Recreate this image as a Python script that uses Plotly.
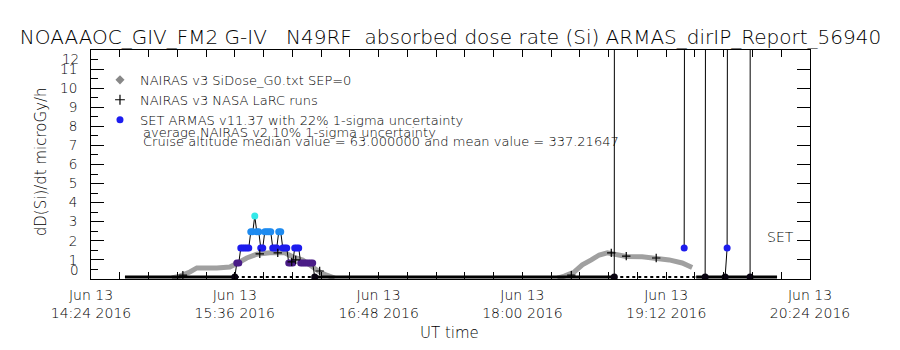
import plotly.graph_objects as go

DAY = "2016-06-13 "

# NAIRAS v3 SiDose curve (gray)
nairas_time = ["15:04:30", "15:08:30", "15:13:30", "15:17:00", "15:27:00", "15:33:30", "15:37:30",
               "15:42:00", "15:47:00", "15:53:30", "16:01:00", "16:05:00", "16:10:00", "16:15:00",
               "16:18:30", "16:22:00", "16:26:00", None,
               "18:17:30", "18:21:00", "18:26:00", "18:30:00", "18:34:30", "18:38:30", "18:42:30",
               "18:46:00", "18:52:00", "19:00:00", "19:07:00", "19:13:30", "19:20:00", "19:25:00"]
nairas_dose = [0.05, 0.15, 0.37, 0.58, 0.58, 0.63, 0.84,
               1.10, 1.30, 1.37, 1.37, 1.16, 1.00, 0.63,
               0.37, 0.20, 0.05, None,
               0.05, 0.15, 0.37, 0.74, 1.00, 1.26, 1.37,
               1.30, 1.18, 1.16, 1.10, 1.00, 0.84, 0.60]

# NAIRAS v3 NASA LaRC runs (+)
larc_time = ["15:10:00", "15:48:30", "15:57:30", "16:04:30", "16:06:30", "16:18:30",
             "18:24:30", "18:44:30", "18:52:00", "19:07:00"]
larc_dose = [0.20, 1.32, 1.37, 0.90, 1.00, 0.42,
             0.20, 1.37, 1.20, 1.10]

# SET ARMAS v11.37 measurements
armas_time = ["15:36", "15:37", "15:38", "15:39", "15:40", "15:41", "15:42", "15:43", "15:44",
              "15:45", "15:46", "15:47", "15:48", "15:49", "15:50", "15:51", "15:52", "15:53",
              "15:54", "15:55", "15:56", "15:57", "15:58", "15:59", "16:00", "16:01", "16:02",
              "16:03", "16:04", "16:05", "16:06", "16:07", "16:08", "16:09", "16:10", "16:11",
              "16:12", "16:13", "16:14", "16:15", "16:16", None,
              "18:46:00", "18:46:10", None,
              "19:21:00", "19:21:30", None,
              "19:31:30", "19:32:00", None,
              "19:41:30", "19:42:30", "19:43:00", None,
              "19:54:00", "19:54:10"]
armas_dose = [0.10, 0.84, 0.84, 1.63, 1.63, 1.63, 1.63, 1.63, 2.47,
              2.47, 3.30, 2.47, 2.47, 1.63, 1.63, 2.47, 2.47, 2.47,
              2.47, 1.63, 1.63, 1.63, 2.47, 2.47, 1.63, 1.63, 1.63,
              0.84, 0.84, 0.84, 1.63, 1.63, 1.63, 0.84, 0.84, 0.84,
              0.84, 0.84, 0.84, 0.84, 0.10, None,
              0.10, 40.0, None,
              1.63, 40.0, None,
              0.10, 40.0, None,
              0.10, 1.63, 40.0, None,
              0.10, 40.0]

# ARMAS zero readings (ground / baseline)
base_time = ["14:41:00", "15:36:30", None, "16:17:00", "18:46:00", None, "19:27:00", "20:07:30"]
base_dose = [0.10, 0.10, None, 0.10, 0.10, None, 0.10, 0.10]
base2_time = ["15:36:30", "16:17:00", None, "18:46:00", "19:27:00"]
base2_dose = [0.10, 0.10, None, 0.10, 0.10]

tick_times = ["14:24", "15:36", "16:48", "18:00", "19:12", "20:24"]
tick_text = ["Jun 13<br>14:24 2016", "Jun 13<br>15:36 2016", "Jun 13<br>16:48 2016",
             "Jun 13<br>18:00 2016", "Jun 13<br>19:12 2016", "Jun 13<br>20:24 2016"]
y_ticks = [0, 1, 2, 3, 4, 5, 6, 7, 8, 9, 10, 11, 12]
y_ticktext = ["", "1", "2", "3", "4", "5", "6", "7", "8", "9", "10", "11", ""]


def ts(lst):
    return [DAY + t if t else None for t in lst]


FONT = "DejaVu Sans"
W = 300

armas_scale = [[0.0, "#000000"], [0.25, "#4b1c85"], [0.5, "#1c1cf0"],
               [0.75, "#1e8cf0"], [1.0, "#33e8e8"]]

fig = go.Figure()
fig.add_trace(go.Scatter(x=ts(nairas_time), y=nairas_dose, mode="lines",
                         line=dict(color="#a0a0a0", width=5), showlegend=False, hoverinfo="skip"))
fig.add_trace(go.Scatter(x=ts(base2_time), y=base2_dose, mode="lines",
                         line=dict(color="black", width=2, dash="dot"), showlegend=False))
fig.add_trace(go.Scatter(x=ts(base_time), y=base_dose, mode="lines",
                         line=dict(color="black", width=3), showlegend=False))
fig.add_trace(go.Scatter(x=ts(armas_time), y=armas_dose, mode="lines+markers",
                         line=dict(color="black", width=1),
                         marker=dict(size=7, color=[v if v is not None else 0 for v in armas_dose],
                                     colorscale=armas_scale, cmin=0, cmax=3.3,
                                     line=dict(width=0)),
                         showlegend=False))
fig.add_trace(go.Scatter(x=ts(larc_time), y=larc_dose, mode="markers",
                         marker=dict(symbol="cross-thin", size=6, line=dict(color="black", width=1.2)),
                         showlegend=False))

# legend entries
fig.add_trace(go.Scatter(x=[None], y=[None], mode="markers", name="NAIRAS v3 SiDose_G0.txt SEP=0",
                         marker=dict(symbol="diamond", size=7, color="#888888")))
fig.add_trace(go.Scatter(x=[None], y=[None], mode="markers", name="NAIRAS v3 NASA LaRC runs",
                         marker=dict(symbol="cross-thin", size=7, line=dict(color="black", width=1.2))))
fig.add_trace(go.Scatter(x=[None], y=[None], mode="markers",
                         name="SET ARMAS v11.37 with 22% 1-sigma uncertainty",
                         marker=dict(symbol="circle", size=7, color="#1c1cf0"), yaxis="y2"))

fig.update_layout(
    width=900, height=350,
    margin=dict(l=91, r=90, t=50, b=71),
    paper_bgcolor="white", plot_bgcolor="white",
    font=dict(family=FONT, color="black", size=13, weight=W),
    title=dict(text="NOAAAOC_GIV_FM2 G-IV\u00a0\u00a0\u00a0N49RF\u00a0\u00a0absorbed dose rate (Si) ARMAS_dirIP_Report_56940",
               x=0.5, xref="paper", xanchor="center", y=1 - 37 / 350, yanchor="middle",
               font=dict(size=20, family=FONT, weight=W)),
    showlegend=True,
    legend=dict(x=0.0125, y=0.935, xanchor="left", yanchor="top", bgcolor="rgba(0,0,0,0)",
                font=dict(size=13, weight=W), itemwidth=30, tracegroupgap=0),
    xaxis=dict(type="date", range=[DAY + "14:24", DAY + "20:24"],
               tickvals=ts(tick_times), ticktext=tick_text,
               ticks="inside", ticklen=7, tickcolor="black",
               minor=dict(dtick=864000, tick0=DAY + "14:24", ticks="inside", ticklen=7, tickcolor="black"),
               showline=True, linecolor="black", linewidth=1, mirror="ticks",
               showgrid=False, zeroline=False, tickfont=dict(size=14, weight=W), ticklabelstandoff=3),
    yaxis=dict(range=[0, 12], tickvals=y_ticks, ticktext=y_ticktext, ticks="inside", ticklen=13,
               tickcolor="black",
               minor=dict(dtick=0.5, ticks="inside", ticklen=7, tickcolor="black"),
               showline=True, linecolor="black", linewidth=1, mirror=True,
               showgrid=False, zeroline=False, tickfont=dict(size=13.5, weight=W), ticklabelstandoff=10),
    yaxis2=dict(range=[0, 12], overlaying="y", side="right", tickvals=y_ticks,
                ticks="inside", ticklen=13, tickcolor="black", showticklabels=False,
                showline=False, showgrid=False, zeroline=False),
    annotations=[
        dict(text="12", xref="paper", yref="y", x=(80 - 91) / 719, y=12, showarrow=False,
             font=dict(size=13.5, weight=W), xanchor="right", yanchor="top", borderpad=0),
        dict(text="0", xref="paper", yref="y", x=(80 - 91) / 719, y=0, showarrow=False,
             font=dict(size=13.5, weight=W), xanchor="right", yanchor="bottom", borderpad=0),
        dict(text="dD(Si)/dt microGy/h", xref="paper", yref="paper", x=(41 - 91) / 719, y=0.51,
             textangle=-90, showarrow=False, font=dict(size=15, weight=W),
             xanchor="center", yanchor="middle"),
        dict(text="UT time", xref="paper", yref="paper", x=0.499, y=(279 - 333) / 229,
             showarrow=False, font=dict(size=15, weight=W), xanchor="center", yanchor="middle"),
        dict(text="SET", xref="paper", yref="y", x=(796 - 91) / 719, y=2.2,
             showarrow=False, font=dict(size=14, weight=W), xanchor="right", yanchor="middle"),
        dict(text="average NAIRAS v2 10% 1-sigma uncertainty", xref="paper", yref="paper",
             x=(141 - 91) / 719, y=(279 - 132) / 229, showarrow=False, font=dict(size=13, weight=W),
             xanchor="left", yanchor="middle"),
        dict(text="Cruise altitude median value = 63.000000 and mean value = 337.21647",
             xref="paper", yref="paper", x=(141 - 91) / 719, y=(279 - 141) / 229,
             showarrow=False, font=dict(size=13, weight=W), xanchor="left", yanchor="middle"),
    ],
)

fig.write_html("out.html")
